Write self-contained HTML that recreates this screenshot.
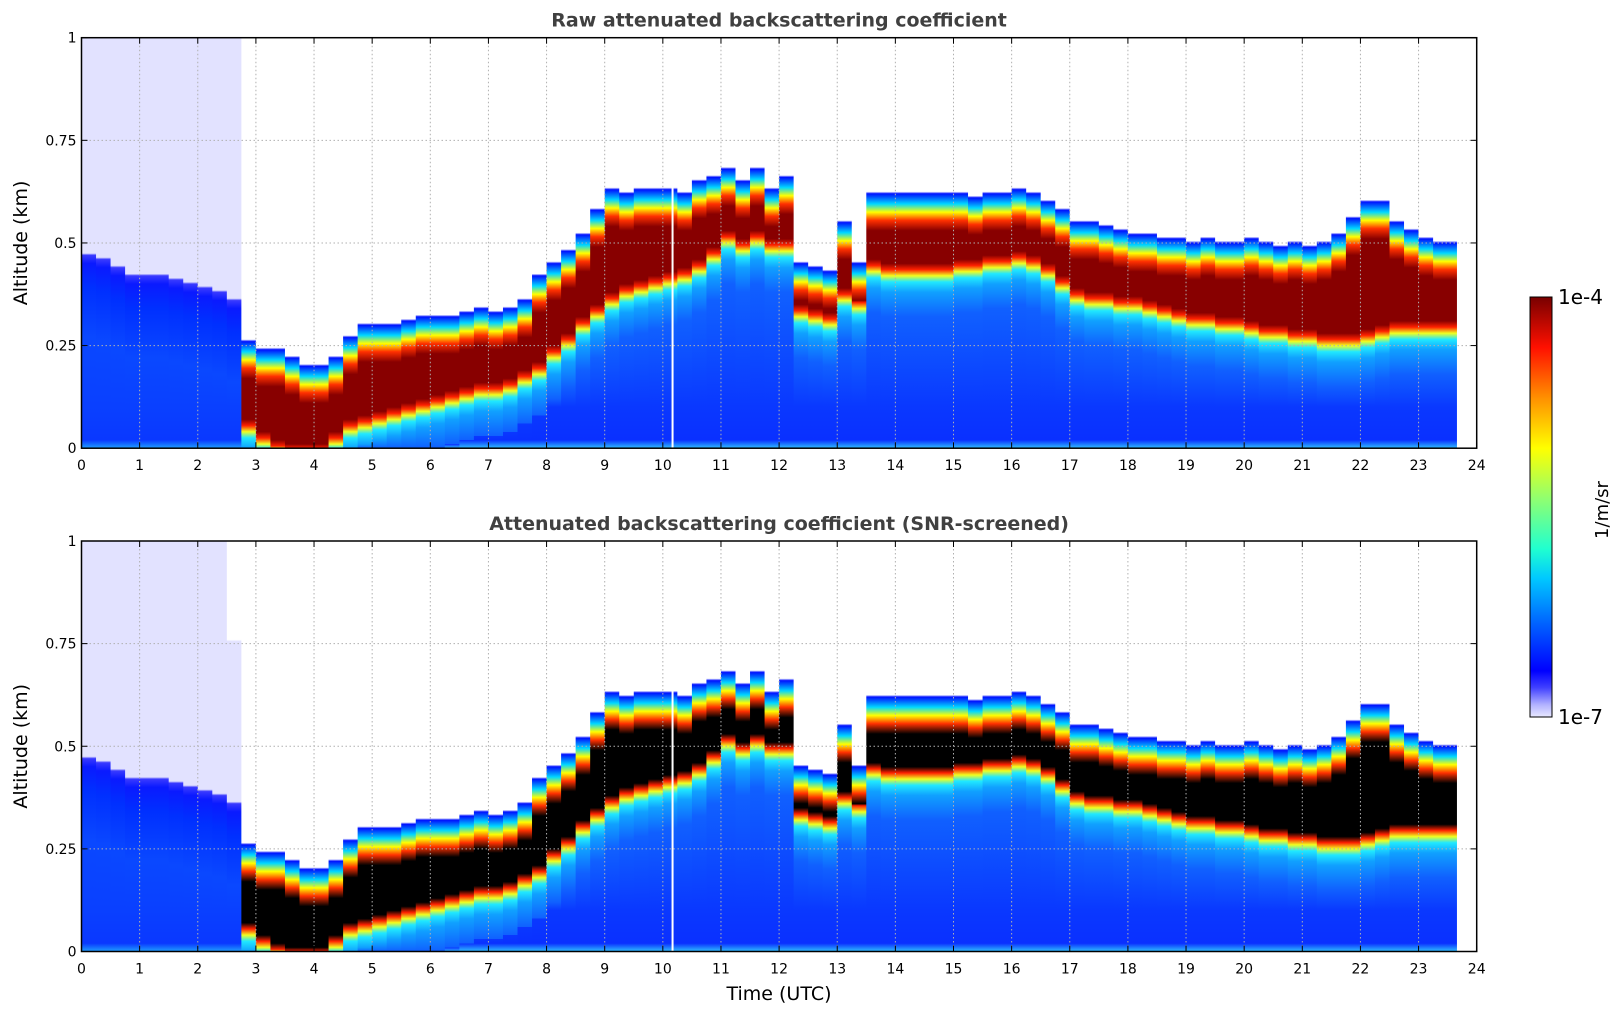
<!DOCTYPE html>
<html><head><meta charset="utf-8"><style>
body{margin:0;background:#fff;}
svg{display:block;font-family:"DejaVu Sans","Liberation Sans",sans-serif;}
</style></head><body>
<svg id="chart" width="1621" height="1020" viewBox="0 0 1621 1020" xmlns="http://www.w3.org/2000/svg">
<defs id="defs">
<linearGradient id="cbar" x1="0" y1="1" x2="0" y2="0">
<stop offset="0" stop-color="#e8e8ff"/><stop offset="0.03" stop-color="#b0b0ff"/><stop offset="0.07" stop-color="#4040ff"/>
<stop offset="0.11" stop-color="#0000ff"/><stop offset="0.22" stop-color="#0060ff"/><stop offset="0.33" stop-color="#00c8ff"/>
<stop offset="0.40" stop-color="#20ffd0"/><stop offset="0.52" stop-color="#90ff70"/><stop offset="0.64" stop-color="#ffff00"/>
<stop offset="0.76" stop-color="#ff9000"/><stop offset="0.88" stop-color="#ff1000"/><stop offset="1" stop-color="#780000"/>
</linearGradient>
</defs>
<g id="panels"></g>
<g>
<rect x="1530" y="297" width="22" height="420" fill="url(#cbar)" stroke="#000" stroke-width="1"/>
<text x="1558" y="304" font-size="20">1e-4</text>
<text x="1558" y="724" font-size="20">1e-7</text>
<text transform="translate(1608,510) rotate(-90)" text-anchor="middle" font-size="18">1/m/sr</text>
</g>
<text x="779" y="1000" text-anchor="middle" font-size="19">Time (UTC)</text>
</svg>
<script>
const hours=[0,0.25,0.5,0.75,1,1.25,1.5,1.75,2,2.25,2.5,2.75,3,3.25,3.5,3.75,4,4.25,4.5,4.75,5,5.25,5.5,5.75,6,6.25,6.5,6.75,7,7.25,7.5,7.75,8,8.25,8.5,8.75,9,9.25,9.5,9.75,10,10.25,10.5,10.75,11,11.25,11.5,11.75,12,12.25,12.5,12.75,13,13.25,13.5,13.75,14,14.25,14.5,14.75,15,15.25,15.5,15.75,16,16.25,16.5,16.75,17,17.25,17.5,17.75,18,18.25,18.5,18.75,19,19.25,19.5,19.75,20,20.25,20.5,20.75,21,21.25,21.5,21.75,22,22.25,22.5,22.75,23,23.25,23.5];
const layerTop=[.47,.46,.44,.42,.42,.42,.41,.40,.39,.38,.36,.26,.24,.24,.22,.20,.20,.22,.27,.30,.30,.30,.31,.32,.32,.32,.33,.34,.33,.34,.36,.42,.45,.48,.52,.58,.63,.62,.63,.63,.63,.62,.65,.66,.68,.65,.68,.63,.66,.45,.44,.43,.55,.45,.62,.62,.62,.62,.62,.62,.62,.61,.62,.62,.63,.62,.60,.58,.55,.55,.54,.53,.52,.52,.51,.51,.50,.51,.50,.50,.51,.50,.49,.50,.49,.50,.52,.56,.60,.60,.55,.53,.51,.50,.50];
const layerBase=[null,null,null,null,null,null,null,null,null,null,null,.06,.03,.01,0,0,0,.03,.06,.07,.08,.09,.10,.11,.12,.13,.14,.15,.15,.16,.18,.20,.24,.27,.31,.34,.37,.39,.40,.41,.42,.43,.45,.48,.52,.50,.52,.50,.50,.34,.33,.32,.38,.36,.45,.44,.44,.44,.44,.44,.45,.45,.46,.46,.47,.46,.44,.41,.38,.37,.37,.36,.36,.35,.34,.33,.32,.32,.31,.31,.30,.29,.29,.28,.28,.27,.27,.27,.28,.29,.30,.30,.30,.30,.30];
const dataEnd=23.65;
const xTicks=[0,1,2,3,4,5,6,7,8,9,10,11,12,13,14,15,16,17,18,19,20,21,22,23,24];
const yTicks=[0,0.25,0.5,0.75,1];
const yTickLabels=["0","0.25","0.5","0.75","1"];
const titles=["Raw attenuated backscattering coefficient","Attenuated backscattering coefficient (SNR-screened)"];

const NS="http://www.w3.org/2000/svg";
const L=81.5,R=1476.7;
const panelTops=[37.7,541],PH=410.5;
const xs=h=>L+(R-L)*h/24;
function mk(tag,attrs,parent){const e=document.createElementNS(NS,tag);for(const k in attrs)e.setAttribute(k,attrs[k]);parent.appendChild(e);return e;}
const defs=document.getElementById('defs');
const panels=document.getElementById('panels');

panelTops.forEach((T,p)=>{
  const ys=v=>T+PH*(1-v);
  const g=mk('g',{},panels);
  
  
  const dark=p===0?'#880000':'#000000';
  hours.forEach((h,i)=>{
    const id='gc'+p+'_'+i;
    const lg=mk('linearGradient',{id:id,x1:0,y1:0,x2:0,y2:1},defs);
    const top=layerTop[i],base=layerBase[i];
    let stops;
    if(base===null){
      const lavTop=(p===1&&h>=2.5)?top+0.4:1;
      stops=[[1,p===1&&h>=2.5?'#ffffff':'#e2e2ff'],[lavTop,p===1&&h>=2.5?'#ffffff':'#e2e2ff'],[lavTop-0.005,'#e2e2ff'],[top+0.005,'#e2e2ff'],[top,'#3a3aff'],[top-0.02,'#0a1aff'],[top-0.08,'#0030ff'],[top-0.2,'#0a48ff'],[0.1,'#0a40ff'],[0.02,'#0a38ff'],[0,'#20a0ff']];
    } else {
      stops=[[1,'#ffffff'],[top+0.005,'#ffffff'],[top,'#0010ff'],[top-0.025,'#00d8ff'],[top-0.045,'#ffff00'],[top-0.065,'#ff3000'],[top-0.09,dark],[base+0.01,dark],[base-0.005,'#ff2000'],[base-0.02,'#f0ff20'],[base-0.035,'#20e8ff'],[base-0.06,'#10a0ff'],[base-0.12,'#1060ff'],[0.1,'#0a38ff'],[0.02,'#0a30ff'],[0,'#30c0ff']];
    }
    stops.forEach(s=>{const k=Math.max(0,Math.min(1,s[0]));mk('stop',{offset:(1-k).toFixed(4),'stop-color':s[1]},lg);});
    const h2=Math.min(i+1<hours.length?hours[i+1]:dataEnd,dataEnd);
    const r=mk('rect',{x:xs(h),y:T,width:xs(h2)-xs(h)+0.6,height:PH,fill:'url(#'+id+')'},g);
    
    
  });
  const gap=mk('rect',{x:xs(10.15),y:ys(1),width:2,height:PH,fill:'#fff'},g);
  
  
  xTicks.forEach(t=>{
    if(t>0&&t<24){const l=mk('line',{x1:xs(t),x2:xs(t),y1:T,y2:T+PH,stroke:'#b0b0b0','stroke-width':1,'stroke-dasharray':'1.5,2.5'},g);
    }
    mk('line',{x1:xs(t),x2:xs(t),y1:T+PH,y2:T+PH-6,stroke:'#000'},g);
    mk('line',{x1:xs(t),x2:xs(t),y1:T,y2:T+6,stroke:'#000'},g);
    const tx=mk('text',{x:xs(t),y:T+PH+22,'text-anchor':'middle','font-size':14},g);
    tx.textContent=t;
    
  });
  yTicks.forEach((v,j)=>{
    if(v>0&&v<1){const l=mk('line',{x1:L,x2:R,y1:ys(v),y2:ys(v),stroke:'#b0b0b0','stroke-width':1,'stroke-dasharray':'1.5,2.5'},g);
    }
    mk('line',{x1:L,x2:L+6,y1:ys(v),y2:ys(v),stroke:'#000'},g);
    mk('line',{x1:R,x2:R-6,y1:ys(v),y2:ys(v),stroke:'#000'},g);
    const tx=mk('text',{x:L-5,y:ys(v)+5,'text-anchor':'end','font-size':14},g);
    tx.textContent=yTickLabels[j];
    
  });
  const fr=mk('rect',{x:L,y:T,width:R-L,height:PH,fill:'none',stroke:'#000','stroke-width':1.5},g);
  
  const ti=mk('text',{x:(L+R)/2,y:T-11,'text-anchor':'middle','font-size':19,'font-weight':'bold',fill:'#404040'},g);
  ti.textContent=titles[p];
  
  const yl=mk('text',{transform:'translate(27,'+(T+PH/2)+') rotate(-90)','text-anchor':'middle','font-size':19},g);
  yl.textContent='Altitude (km)';
  
});
</script>
</body></html>
